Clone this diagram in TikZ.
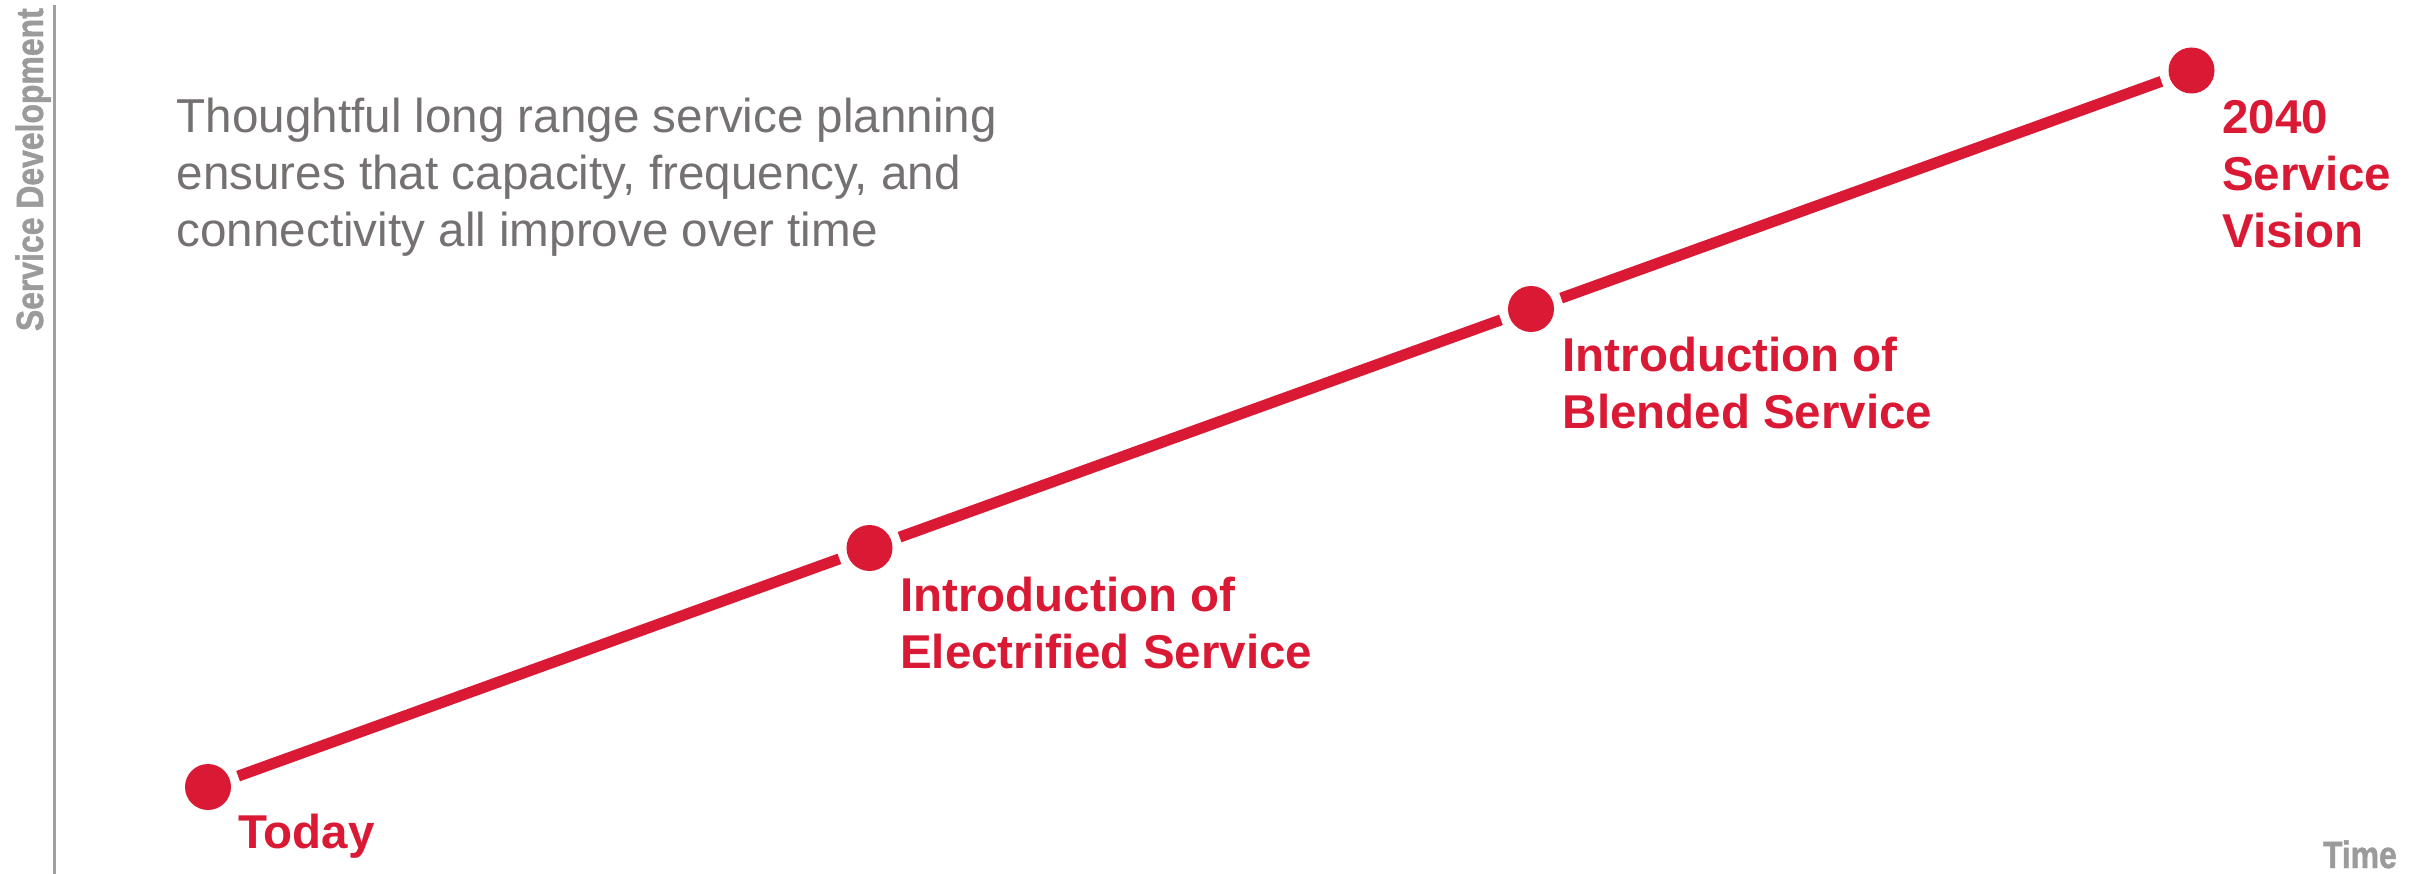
\documentclass[tikz,border=0pt]{standalone}
\usepackage{fontspec}
\setmainfont{Liberation Sans}
\newfontfamily\condfont[FakeStretch=0.84, BoldFeatures={FakeBold=1.2}]{Liberation Sans}
\definecolor{tlred}{RGB}{218,26,53}
\definecolor{txtgray}{RGB}{118,113,113}
\definecolor{axgray}{RGB}{155,155,155}
\definecolor{linegray}{RGB}{160,160,160}
\tikzset{
  milestone/.style={circle, fill=tlred, minimum size=46pt, inner sep=0pt, outer sep=9pt},
  mlabel/.style={anchor=base west, inner sep=0pt, align=left, text=tlred,
    font=\fontsize{47.5}{57}\selectfont\bfseries},
  axlabel/.style={inner sep=0pt, text=axgray, font=\condfont\fontsize{38}{45}\selectfont\bfseries},
  trend/.style={line width=11pt, tlred, line cap=butt}
}
\begin{document}
\begin{tikzpicture}[x=1pt,y=-1pt]
\useasboundingbox (0,0) rectangle (2423,874);
% axis
\coordinate (axtop) at (54.5,5);
\coordinate (axbot) at (54.5,874);
\draw[linegray, line width=2.4pt] (axtop) -- (axbot);
\node[axlabel, rotate=90, anchor=base east] (ylab) at (43,8) {Service Development};
\node[axlabel, anchor=base east] (xlab) at (2397,868) {Time};
% intro text (anchor at baseline of last line)
\node[anchor=base west, inner sep=0pt, align=left, text=txtgray,
  font=\fontsize{47.6}{57}\selectfont] (intro) at (176.5,247)
  {Thoughtful long range service planning\\ensures that capacity, frequency, and\\connectivity all improve over time};
% milestones
\node[milestone] (m1) at (208,787) {};
\node[milestone] (m2) at (869.5,548) {};
\node[milestone] (m3) at (1531,309) {};
\node[milestone] (m4) at (2191.5,70.5) {};
\draw[trend] (m1) -- (m2);
\draw[trend] (m2) -- (m3);
\draw[trend] (m3) -- (m4);
\node[mlabel] (l1) at (238,848.5) {Today};
\node[mlabel] (l2) at (900,668) {Introduction of\\Electrified Service};
\node[mlabel] (l3) at (1562.5,428.5) {Introduction of\\Blended Service};
\node[mlabel] (l4) at (2222,248) {2040\\Service\\Vision};
\end{tikzpicture}
\end{document}
